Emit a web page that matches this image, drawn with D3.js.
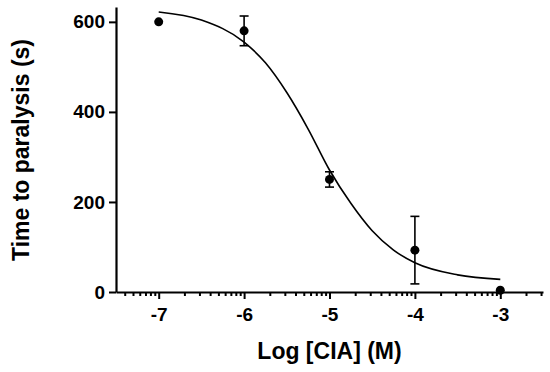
<!DOCTYPE html>
<html>
<head>
<meta charset="utf-8">
<script src="https://cdn.jsdelivr.net/npm/d3@7"></script>
<style>
	body { margin: 0; background: #fff; }
	svg text { font-family: "Liberation Sans", Arial, sans-serif; font-weight: bold; fill: #000; }
</style>
</head>
<body>
<div id="chart"></div>
<script>
// measured points (log concentration, mean time, SEM)
const logConc = [-7, -6, -5, -4, -3];
const meanTime = [600, 580, 250, 93, 4];
const errTime = [0, 33, 17, 75, 0];

// fitted curve
const curveX = [-7, -6.5, -6, -5.75, -5.5, -5.25, -5, -4.75, -4.5, -4.25, -4, -3.5, -3];
const curveY = [622, 604, 555, 509, 443, 362, 271, 197, 136, 93, 65, 38, 28];

const xTicks = [-7, -6, -5, -4, -3];
const yTicks = [0, 200, 400, 600];

const width = 550, height = 372;
const margin = { top: 7, right: 7, bottom: 80, left: 116 };

const svg = d3.select('#chart').append('svg')
	.attr('width', width)
	.attr('height', height);

const x = d3.scaleLinear()
	.domain([-7.5, -2.5])
	.range([margin.left, width - margin.right]);

const y = d3.scaleLinear()
	.domain([0, 633])
	.range([height - margin.bottom, margin.top]);

// minor ticks: log spacing inside each decade
const minorTicks = [];
for (let d = -8; d < -2; d++) {
	for (let k = 2; k <= 9; k++) {
		const v = d + Math.log10(k);
		if (v > -7.5 && v < -2.5) minorTicks.push(v);
	}
}

const y0 = y(0);

// x axis minor ticks
svg.append('g')
	.attr('transform', 'translate(0,' + y0 + ')')
	.call(d3.axisBottom(x).tickValues(minorTicks).tickSize(4).tickFormat(''))
	.call(g => g.select('.domain').remove())
	.call(g => g.selectAll('line').attr('stroke-width', 2));

// x axis major
const xAxis = svg.append('g')
	.attr('transform', 'translate(0,' + y0 + ')')
	.call(d3.axisBottom(x).tickValues(xTicks).tickSize(7).tickSizeOuter(0).tickPadding(9).tickFormat(d3.format('d')));
xAxis.select('.domain').attr('stroke-width', 2.2);
xAxis.selectAll('line').attr('stroke-width', 2);
xAxis.selectAll('text').style('font-size', '19px').text(d => '-' + Math.abs(d));

// y axis
const yAxis = svg.append('g')
	.attr('transform', 'translate(' + margin.left + ',0)')
	.call(d3.axisLeft(y).tickValues(yTicks).tickSize(7).tickSizeOuter(0).tickPadding(4));
yAxis.select('.domain').attr('stroke-width', 2.2);
yAxis.selectAll('line').attr('stroke-width', 2);
yAxis.selectAll('text').style('font-size', '19px');

// axis titles
svg.append('text')
	.attr('x', x(-5))
	.attr('y', 359)
	.attr('text-anchor', 'middle')
	.style('font-size', '23px')
	.text('Log [CIA] (M)');

svg.append('text')
	.attr('transform', 'translate(29,150) rotate(-90)')
	.attr('text-anchor', 'middle')
	.style('font-size', '23px')
	.text('Time to paralysis (s)');

// fitted curve
const curveData = curveX.map((v, i) => [v, curveY[i]]);
svg.append('path')
	.datum(curveData)
	.attr('fill', 'none')
	.attr('stroke', '#000')
	.attr('stroke-width', 1.6)
	.attr('d', d3.line().x(d => x(d[0])).y(d => y(d[1])).curve(d3.curveMonotoneX));

// error bars
const pts = logConc.map((v, i) => ({ x: v, y: meanTime[i], e: errTime[i] }));
const eb = svg.append('g').attr('stroke', '#000').attr('stroke-width', 1.6);
pts.filter(d => d.e > 0).forEach(d => {
	eb.append('line')
		.attr('x1', x(d.x)).attr('x2', x(d.x))
		.attr('y1', y(d.y + d.e)).attr('y2', y(d.y - d.e));
	[d.y + d.e, d.y - d.e].forEach(v => {
		eb.append('line')
			.attr('x1', x(d.x) - 4.5).attr('x2', x(d.x) + 4.5)
			.attr('y1', y(v)).attr('y2', y(v));
	});
});

// points
svg.append('g')
	.selectAll('circle')
	.data(pts)
	.join('circle')
	.attr('cx', d => x(d.x))
	.attr('cy', d => y(d.y))
	.attr('r', 4.5)
	.attr('fill', '#000');
</script>
</body>
</html>
